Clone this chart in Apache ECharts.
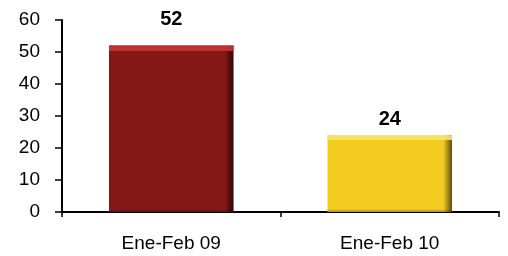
<!DOCTYPE html>
<html>
<head>
<meta charset="utf-8">
<script src="https://cdn.jsdelivr.net/npm/echarts@6/dist/echarts.min.js"></script>
<style>
    html, body {margin: 0; padding: 0; background: #fff;}
    #chart {width: 508px; height: 256px;}
</style>
</head>
<body>
<div id="chart"></div>
<script>
var categories = ['Ene-Feb 09', 'Ene-Feb 10'];
var values = [52, 24];
var yTicks = [0, 10, 20, 30, 40, 50, 60];

// colores de cada barra: brillo, base, oscuro
var barColors = [
    ['rgba(196,52,50,0.9)', '#861719', '#2e0606'],
    ['rgba(244,232,96,0.9)', '#f3cd22', '#5e4c0c']
];
// la etiqueta de la primera barra queda más separada
var labelGap = [16, 6];

function sideShade(c) {
    return new echarts.graphic.LinearGradient(0, 0, 1, 0, [
        {offset: 0, color: c[1]},
        {offset: 0.93, color: c[1]},
        {offset: 1, color: c[2]}
    ]);
}

// brillo arriba y sombra abajo, aprox. 5px de alto
function topShade(v, c) {
    var f = 5 / (v * 3.2);
    return new echarts.graphic.LinearGradient(0, 0, 0, 1, [
        {offset: 0, color: c[0]},
        {offset: f, color: c[0]},
        {offset: f + 0.001, color: 'rgba(0,0,0,0)'},
        {offset: 1 - f * 0.6, color: 'rgba(0,0,0,0)'},
        {offset: 1, color: 'rgba(0,0,0,0.3)'}
    ]);
}

var font = 'Liberation Sans, Arial';
var chart = echarts.init(document.getElementById('chart'), null, {renderer: 'canvas'});
chart.setOption({
    animation: false,
    grid: {left: 62, right: 9, top: 20, bottom: 44},
    xAxis: {
        type: 'category',
        data: categories,
        axisLine: {lineStyle: {color: '#000', width: 2}},
        axisTick: {show: true, length: 5, lineStyle: {color: '#000', width: 1.5}},
        axisLabel: {color: '#000', fontSize: 19, fontFamily: font, margin: 22}
    },
    yAxis: {
        type: 'value',
        min: yTicks[0],
        max: yTicks[yTicks.length - 1],
        interval: 10,
        axisLine: {show: true, lineStyle: {color: '#000', width: 2}},
        axisTick: {show: true, length: 7, lineStyle: {color: '#000', width: 1.5}},
        axisLabel: {color: '#000', fontSize: 19, fontFamily: font, margin: 22},
        splitLine: {show: false}
    },
    series: [{
        type: 'bar',
        barWidth: '57%',
        data: values.map(function (v, i) {
            return {
                value: v,
                itemStyle: {color: sideShade(barColors[i])},
                label: {distance: labelGap[i]}
            };
        }),
        label: {
            show: true,
            position: 'top',
            color: '#000',
            fontSize: 20,
            fontWeight: 'bold',
            fontFamily: font
        }
    }, {
        type: 'bar',
        barWidth: '57%',
        barGap: '-100%',
        silent: true,
        data: values.map(function (v, i) {
            return {value: v, itemStyle: {color: topShade(v, barColors[i])}};
        })
    }]
});
</script>
</body>
</html>
